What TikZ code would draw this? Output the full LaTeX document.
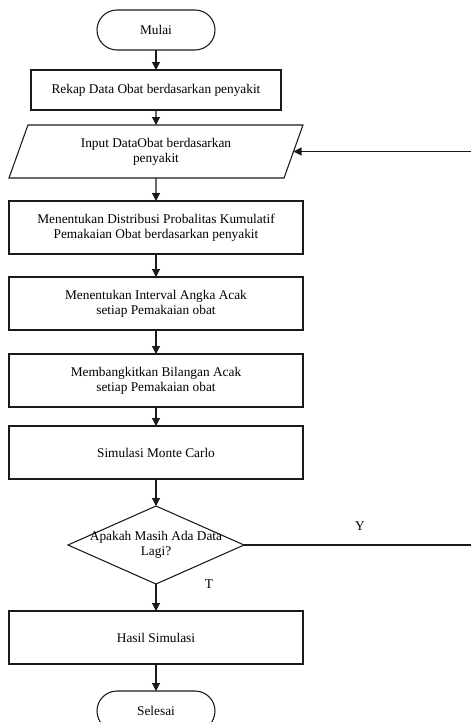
\documentclass[tikz,border=0pt]{standalone}
\usepackage{fontspec}
\setmainfont{Liberation Serif}
\usepackage{tikz}
\usetikzlibrary{arrows.meta, positioning, shapes.geometric}
\definecolor{fcLine}{HTML}{1A1A1A}
\tikzset{
  fc-term/.style={
    rectangle, rounded corners=15pt, draw=fcLine, line width=0.8pt, outer sep=0pt,
    minimum width=88.5pt, minimum height=30pt, align=center
  },
  fc-box/.style={
    rectangle, draw=fcLine, line width=0.8pt, outer sep=0pt,
    minimum width=220.5pt, minimum height=39.75pt, align=center
  },
  fc-io/.style={
    trapezium, trapezium left angle=62, trapezium right angle=118,
    trapezium stretches body, draw=fcLine, line width=0.8pt, outer sep=0pt,
    minimum width=220.5pt, minimum height=39.75pt, align=center
  },
  fc-dec/.style={
    diamond, draw=fcLine, line width=0.8pt, inner sep=0pt, outer sep=0pt,
    minimum width=132pt, minimum height=58.5pt
  },
  fc-flow/.style={-{Triangle[length=6pt,width=6pt]}, line width=0.8pt, draw=fcLine},
}

\begin{document}
\begin{tikzpicture}[font=\fontsize{10}{11}\selectfont]
  \useasboundingbox (0,0) rectangle (353.25pt,-541.5pt);
  \node[fc-term]                                          (mulai)  at (117pt,-22.5pt) {Mulai};
  \node[fc-box, below=15pt of mulai, minimum width=187.5pt,
        minimum height=30pt]                              (rekap)  {Rekap Data Obat berdasarkan penyakit};
  \node[fc-io, below=11.25pt of rekap]                    (input)  {Input DataObat berdasarkan\\penyakit};
  \node[fc-box, below=17.25pt of input]                   (distr)  {Menentukan Distribusi Probalitas Kumulatif\\Pemakaian Obat berdasarkan penyakit};
  \node[fc-box, below=17.25pt of distr]                   (intv)   {Menentukan Interval Angka Acak\\setiap Pemakaian obat};
  \node[fc-box, below=18pt of intv]                       (bangkit){Membangkitkan Bilangan Acak\\setiap Pemakaian obat};
  \node[fc-box, below=14.25pt of bangkit]                 (monte)  {Simulasi Monte Carlo};
  \node[fc-dec, below=20.25pt of monte,
        label={[align=center]center:Apakah Masih Ada Data\\Lagi?}] (cek) {};
  \node[fc-box, below=20.25pt of cek]                     (hasil)  {Hasil Simulasi};
  \node[fc-term, below=20.25pt of hasil]                  (selesai){Selesai};
  \coordinate (balik) at (357pt,0);

  \draw[fc-flow] (mulai)   -- (rekap);
  \draw[fc-flow] (rekap)   -- (input);
  \draw[fc-flow] (input)   -- (distr);
  \draw[fc-flow] (distr)   -- (intv);
  \draw[fc-flow] (intv)    -- (bangkit);
  \draw[fc-flow] (bangkit) -- (monte);
  \draw[fc-flow] (monte)   -- (cek);
  \draw[fc-flow] (cek)     -- node[pos=0, right=33pt]{T} (hasil);
  \draw[fc-flow] (hasil)   -- (selesai);
  \draw[fc-flow] (cek.east) -- node[above=7pt]{Y} (cek.east -| balik)
                 -- (input.right side -| balik) -- (input.right side);
\end{tikzpicture}
\end{document}
